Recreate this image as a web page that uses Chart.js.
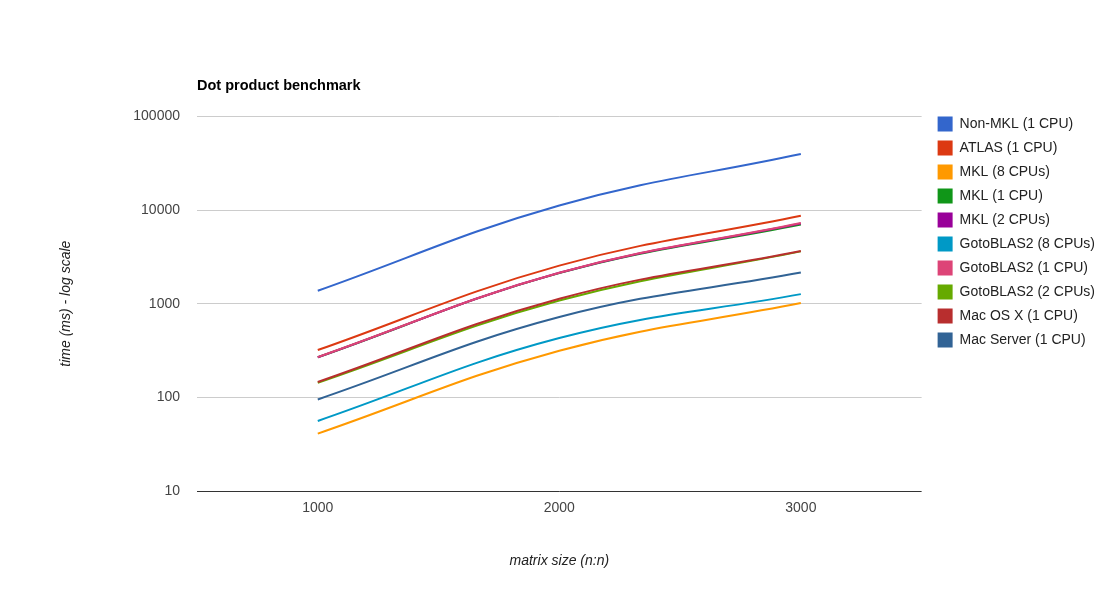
<!DOCTYPE html>
<html>
<head>
<meta charset="utf-8">
<script src="https://cdn.jsdelivr.net/npm/chart.js@4"></script>
<style>
html,body{margin:0;padding:0;background:#fff;}
#wrap{width:1118px;height:605px;}
</style>
</head>
<body>
<div id="wrap"><canvas id="c" width="1118" height="605"></canvas></div>
<script>
const categories = ['1000', '2000', '3000'];
const seriesNames = ['Non-MKL (1 CPU)', 'ATLAS (1 CPU)', 'MKL (8 CPUs)', 'MKL (1 CPU)', 'MKL (2 CPUs)',
  'GotoBLAS2 (8 CPUs)', 'GotoBLAS2 (1 CPU)', 'GotoBLAS2 (2 CPUs)', 'Mac OS X (1 CPU)', 'Mac Server (1 CPU)'];
const nonMkl1 = [1375, 11200, 39700];
const atlas1 = [320, 2550, 8700];
const mkl8 = [41, 315, 1015];
const mkl1 = [268, 2120, 7000];
const mkl2 = [268, 2140, 7200];
const goto8 = [56, 430, 1265];
const goto1 = [269, 2140, 7280];
const goto2 = [143, 1080, 3620];
const macOsX1 = [146, 1130, 3660];
const macServer1 = [95, 720, 2150];
const yTicks = [10, 100, 1000, 10000, 100000];

const seriesValues = [nonMkl1, atlas1, mkl8, mkl1, mkl2, goto8, goto1, goto2, macOsX1, macServer1];
const colors = ['#3366cc', '#dc3912', '#ff9900', '#109618', '#990099', '#0099c6', '#dd4477', '#66aa00', '#b82e2e', '#316395'];
const FONT = 'Arial, "Liberation Sans", sans-serif';

const datasets = seriesValues.map((vals, i) => ({
  label: seriesNames[i],
  data: vals,
  borderColor: colors[i],
  backgroundColor: colors[i],
  borderWidth: 2,
  pointRadius: 0,
  pointHoverRadius: 0,
  tension: 0.4,
  fill: false,
  order: -i
}));

const legendShift = {
  id: 'legendShift',
  afterLayout(chart) {
    const lg = chart.legend;
    if (!lg) return;
    lg.left += 7; lg.right += 7;
    lg.top -= 9; lg.bottom -= 9;
  }
};

new Chart(document.getElementById('c'), {
  type: 'line',
  data: { labels: categories, datasets },
  plugins: [legendShift],
  options: {
    responsive: false,
    devicePixelRatio: 1,
    animation: false,
    events: [],
    layout: { padding: { left: 58, top: 77, right: 20, bottom: 35 } },
    plugins: {
      title: {
        display: true,
        text: 'Dot product benchmark',
        align: 'start',
        fullSize: false,
        color: '#000',
        font: { family: FONT, size: 14.5, weight: 'bold' },
        padding: { top: 0, bottom: 22 }
      },
      legend: {
        position: 'right',
        align: 'start',
        fullSize: false,
        labels: {
          boxWidth: 15,
          boxHeight: 15,
          padding: 9,
          color: '#222',
          font: { family: FONT, size: 14 },
          sort: (a, b) => a.datasetIndex - b.datasetIndex,
          generateLabels: (chart) => Chart.defaults.plugins.legend.labels.generateLabels(chart).map(l => Object.assign(l, { lineWidth: 0, strokeStyle: 'rgba(0,0,0,0)' }))
        }
      },
      tooltip: { enabled: false }
    },
    scales: {
      x: {
        type: 'category',
        offset: true,
        grid: { display: false, drawTicks: false },
        border: { display: false },
        ticks: { color: '#444', font: { family: FONT, size: 14 }, padding: 9, maxRotation: 0 },
        title: { display: true, text: 'matrix size (n:n)', color: '#222', font: { family: FONT, size: 14, style: 'italic' }, padding: 0 },
        afterFit: (s) => { s.height = 79; }
      },
      y: {
        type: 'logarithmic',
        min: 10,
        max: 100000,
        afterBuildTicks: (s) => { s.ticks = yTicks.map(v => ({ value: v })); },
        grid: {
          drawTicks: false,
          color: (ctx) => (ctx.tick && ctx.tick.value === 10) ? '#333' : '#ccc',
          lineWidth: 1
        },
        border: { display: false },
        ticks: { color: '#444', font: { family: FONT, size: 14 }, padding: 17, callback: (v) => String(v) },
        title: { display: true, text: 'time (ms) - log scale', color: '#222', font: { family: FONT, size: 14, style: 'italic' }, padding: 0 },
        afterFit: (s) => { s.width = 139; }
      }
    }
  }
});
</script>
</body>
</html>
